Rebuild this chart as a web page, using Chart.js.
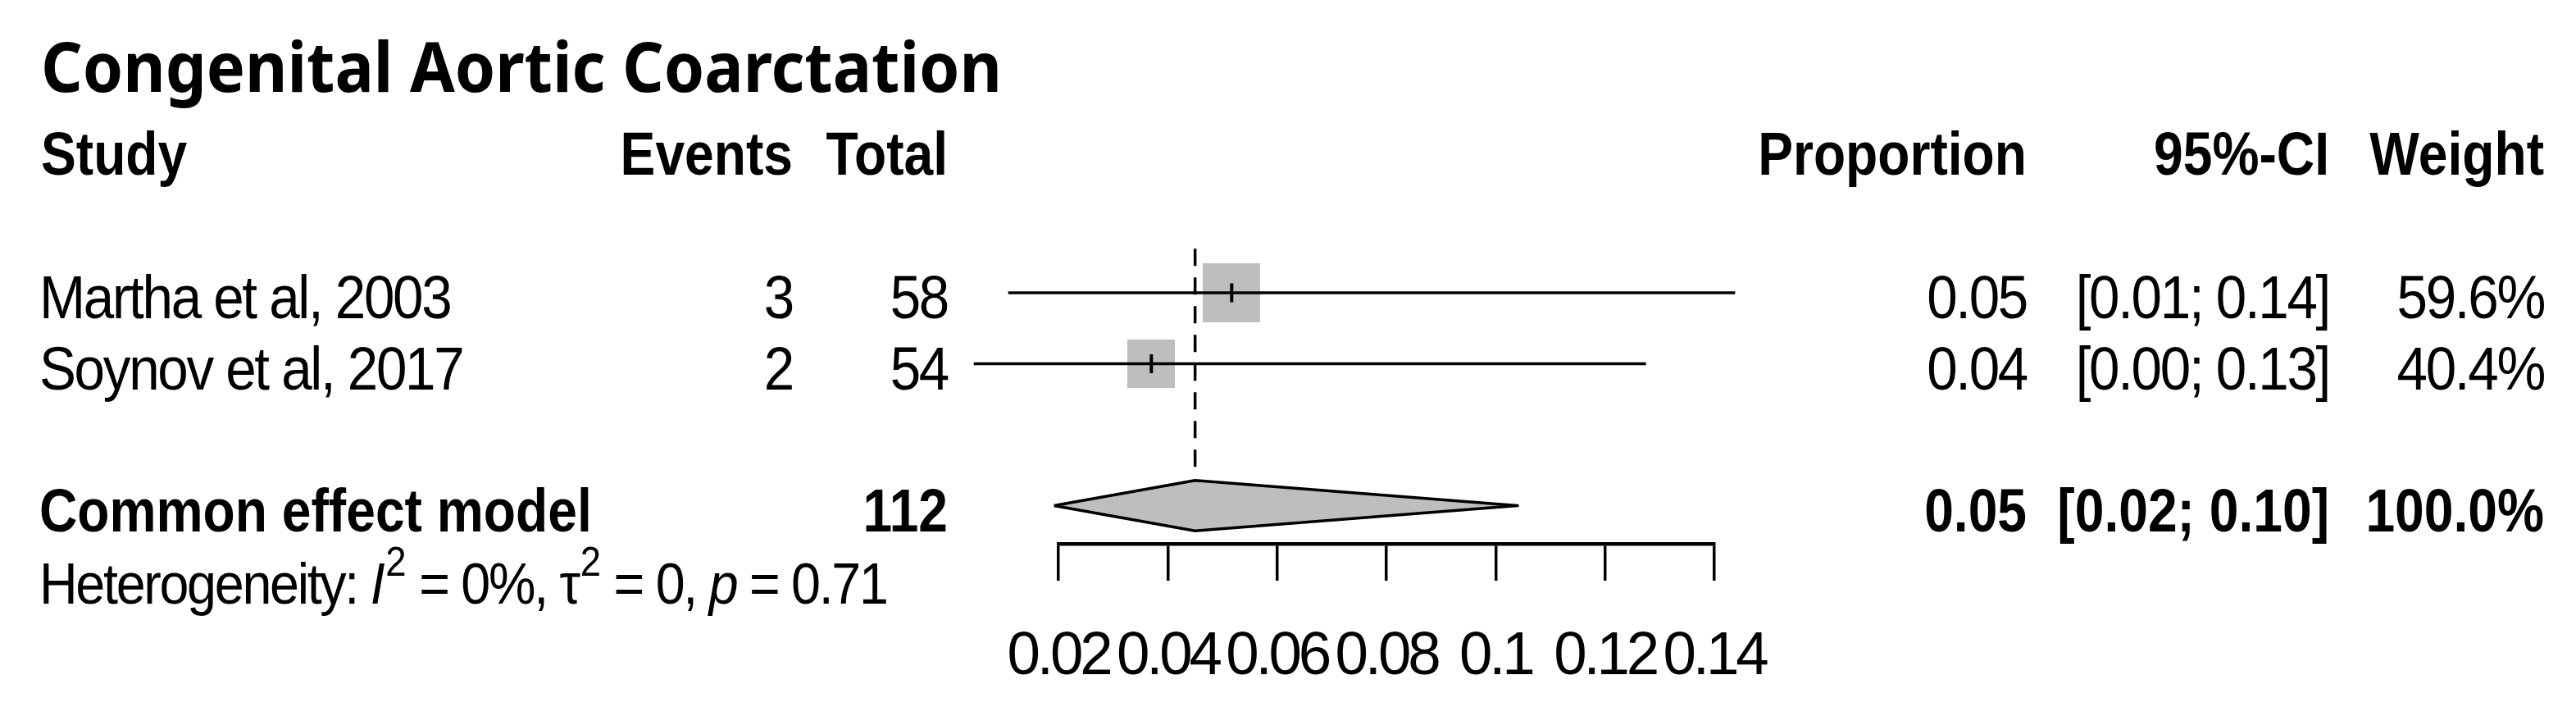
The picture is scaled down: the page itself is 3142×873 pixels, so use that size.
<!DOCTYPE html>
<html>
<head>
<meta charset="utf-8">
<script src="https://cdn.jsdelivr.net/npm/chart.js@4.4.1/dist/chart.umd.min.js"></script>
<style>
  html, body { margin: 0; padding: 0; background: #ffffff; }
  canvas { display: block; }
</style>
</head>
<body>
<canvas id="forest" width="3142" height="873" style="width:3142px;height:873px"></canvas>
<script>
// ---------------- data ----------------
const chartTitle = 'Congenital Aortic Coarctation';
const studies = ['Martha et al, 2003', 'Soynov et al, 2017'];
const events = [3, 2];
const totals = [58, 54];
const proportions = [0.0517, 0.0370];
const ciLower = [0.0108, 0.0045];
const ciUpper = [0.1438, 0.1275];
const weights = [59.6, 40.4];
const proportionLabels = ['0.05', '0.04'];
const ciLabels = ['[0.01; 0.14]', '[0.00; 0.13]'];
const weightLabels = ['59.6%', '40.4%'];

const pooledName = 'Common effect model';
const pooledTotal = 112;
const pooledEstimate = 0.0450;
const pooledLower = 0.0192;
const pooledUpper = 0.1040;
const pooledLabels = ['0.05', '[0.02; 0.10]', '100.0%'];

const xTickValues = [0.02, 0.04, 0.06, 0.08, 0.10, 0.12, 0.14];
const xTickLabels = ['0.02', '0.04', '0.06', '0.08', '0.1', '0.12', '0.14'];

// ---------------- layout ----------------
const W = 3142, H = 873;
const AXIS_LEFT = 1291, AXIS_RIGHT = 2091, AXIS_Y = 663, TICK_LEN = 45;
const ROW1_Y = 357, ROW_GAP = 86.5;
const Y_MIN = 0;
const Y_MAX = 1 + (AXIS_Y - ROW1_Y) / ROW_GAP;
const PAD_TOP = ROW1_Y - ROW_GAP;
const POOLED_ROW = 4, HET_ROW = 5, HEADER_ROW = -1;
const DIAMOND_HALF = 0.355;
const REF_TOP = 0.38, REF_BOTTOM = 3.6;

const FONT = '"Liberation Sans", Arial, Helvetica, sans-serif';
const REG = { size: 74, sx: 0.91, ls: -2.3 };
const BOLD = { size: 74, sx: 0.867, ls: 0 };
const TICKFONT = { size: 75, sx: 0.97, ls: -4.2 };

const COL_EVENTS = 967, COL_TOTAL = 1156;
const COL_PROP = 2472, COL_CI = 2841, COL_WEIGHT = 3103;
const LEFT_X = 48;

function rectImage(w, h) {
  const c = document.createElement('canvas');
  c.width = w; c.height = h;
  const g = c.getContext('2d');
  g.fillStyle = '#BEBEBE';
  g.fillRect(0, 0, w, h);
  return c;
}
const wMax = Math.max(...weights);
const squareImages = weights.map(w => {
  const s = Math.sqrt(w / wMax);
  return rectImage(Math.round(70 * s), Math.round(72 * s));
});

// ---------------- datasets ----------------
const datasets = [];
datasets.push({
  label: 'squares',
  data: proportions.map((p, i) => ({ x: p, y: i + 1 })),
  pointStyle: squareImages,
  pointRadius: 10,
  clip: false,
  order: 6
});
studies.forEach((s, i) => {
  datasets.push({
    label: s,
    showLine: true,
    data: [{ x: ciLower[i], y: i + 1 }, { x: ciUpper[i], y: i + 1 }],
    borderColor: '#000000',
    borderWidth: 3.5,
    pointRadius: 0,
    clip: false,
    order: 3
  });
});
datasets.push({
  label: 'estimates',
  data: proportions.map((p, i) => ({ x: p, y: i + 1 })),
  pointStyle: 'line',
  pointRotation: 90,
  pointRadius: 11.5,
  pointBorderWidth: 4,
  pointBorderColor: '#000000',
  clip: false,
  order: 1
});
datasets.push({
  label: pooledName,
  showLine: true,
  data: [
    { x: pooledLower, y: POOLED_ROW },
    { x: pooledEstimate, y: POOLED_ROW - DIAMOND_HALF },
    { x: pooledUpper, y: POOLED_ROW },
    { x: pooledEstimate, y: POOLED_ROW + DIAMOND_HALF },
    { x: pooledLower, y: POOLED_ROW }
  ],
  borderColor: '#000000',
  borderWidth: 3.5,
  borderJoinStyle: 'round',
  backgroundColor: '#BEBEBE',
  fill: 'shape',
  pointRadius: 0,
  tension: 0,
  clip: false,
  order: 4
});
datasets.push({
  label: 'reference',
  showLine: true,
  data: [{ x: pooledEstimate, y: REF_TOP }, { x: pooledEstimate, y: REF_BOTTOM }],
  borderColor: '#000000',
  borderWidth: 3.5,
  borderDash: [21, 14],
  pointRadius: 0,
  clip: false,
  order: 2
});

// ---------------- text plugin ----------------
function txt(ctx, s, x, y, opt) {
  const o = Object.assign({ size: REG.size, sx: REG.sx, ls: REG.ls, bold: false, italic: false, align: 'left', family: FONT }, opt || {});
  ctx.save();
  ctx.font = (o.italic ? 'italic ' : '') + (o.bold ? 'bold ' : '') + o.size + 'px ' + o.family;
  if ('letterSpacing' in ctx) ctx.letterSpacing = (o.ls / o.sx) + 'px';
  ctx.textAlign = o.align;
  ctx.textBaseline = 'alphabetic';
  ctx.fillStyle = '#000000';
  ctx.translate(x, y);
  ctx.scale(o.sx, 1);
  ctx.fillText(s, 0, 0);
  const w = ctx.measureText(s).width * o.sx;
  ctx.restore();
  return w;
}

const textPlugin = {
  id: 'forestText',
  afterDraw(chart) {
    const ctx = chart.ctx;
    const xs = chart.scales.x, ys = chart.scales.y;
    const base = r => ys.getPixelForValue(r) + 31;
    const B = { size: BOLD.size, sx: BOLD.sx, ls: BOLD.ls, bold: true };
    const R = { align: 'right' };

    // title (fitted to its measured width)
    ctx.save();
    ctx.font = 'bold 84px "Noto Sans", "Open Sans", sans-serif';
    const tw = ctx.measureText(chartTitle).width;
    ctx.restore();
    txt(ctx, chartTitle, 50, 112, { size: 84, sx: 1172 / tw, ls: 0, bold: true, family: '"Noto Sans", "Open Sans", sans-serif' });

    // header
    const hy = base(HEADER_ROW) - 2;
    txt(ctx, 'Study', LEFT_X + 2, hy, B);
    txt(ctx, 'Events', COL_EVENTS, hy, Object.assign({}, B, R));
    txt(ctx, 'Total', COL_TOTAL, hy, Object.assign({}, B, R));
    txt(ctx, 'Proportion', COL_PROP, hy, Object.assign({}, B, R));
    txt(ctx, '95%-CI', COL_CI, hy, Object.assign({}, B, R));
    txt(ctx, 'Weight', COL_WEIGHT, hy, Object.assign({}, B, R));

    // study rows
    studies.forEach((s, i) => {
      const y = base(i + 1);
      txt(ctx, s, LEFT_X, y);
      txt(ctx, String(events[i]), COL_EVENTS, y, R);
      txt(ctx, String(totals[i]), COL_TOTAL, y, R);
      txt(ctx, proportionLabels[i], COL_PROP, y, R);
      txt(ctx, ciLabels[i], COL_CI, y, R);
      txt(ctx, weightLabels[i], COL_WEIGHT, y, R);
    });

    // pooled row
    const py = base(POOLED_ROW);
    txt(ctx, pooledName, LEFT_X, py, B);
    txt(ctx, String(pooledTotal), COL_TOTAL, py, Object.assign({}, B, R));
    txt(ctx, pooledLabels[0], COL_PROP, py, Object.assign({}, B, R));
    txt(ctx, pooledLabels[1], COL_CI, py, Object.assign({}, B, R));
    txt(ctx, pooledLabels[2], COL_WEIGHT, py, Object.assign({}, B, R));

    // heterogeneity line
    const hetY = base(HET_ROW) + 2;
    const HS = { size: 71, sx: REG.sx, ls: REG.ls };
    const SUP = { size: 50, sx: REG.sx, ls: 0 };
    let x = LEFT_X;
    x += txt(ctx, 'Heterogeneity: ', x, hetY, HS);
    x += txt(ctx, 'I', x, hetY, Object.assign({ italic: true }, HS));
    x += txt(ctx, '2', x + 3, hetY - 34, SUP) + 3;
    x += txt(ctx, ' = 0%, ', x, hetY, HS);
    x += txt(ctx, '\u03C4', x, hetY, HS);
    x += txt(ctx, '2', x + 2, hetY - 34, SUP) + 2;
    x += txt(ctx, ' = 0, ', x, hetY, HS);
    x += txt(ctx, 'p', x, hetY, Object.assign({ italic: true }, HS));
    x += txt(ctx, ' = 0.71', x, hetY, HS);

    // x-axis tick labels
    xs.ticks.forEach((t, i) => {
      txt(ctx, xTickLabels[i], xs.getPixelForValue(t.value), 822, Object.assign({ align: 'center' }, TICKFONT));
    });
  }
};

// ---------------- chart ----------------
function makeChart() {
  new Chart(document.getElementById('forest'), {
    type: 'scatter',
    data: { datasets },
    options: {
      responsive: false,
      maintainAspectRatio: false,
      devicePixelRatio: 1,
      animation: false,
      events: [],
      layout: {
        padding: { left: AXIS_LEFT, right: W - AXIS_RIGHT, top: PAD_TOP, bottom: H - AXIS_Y - TICK_LEN }
      },
      plugins: { legend: { display: false }, tooltip: { enabled: false }, title: { display: false } },
      scales: {
        x: {
          type: 'linear',
          position: 'bottom',
          min: xTickValues[0],
          max: xTickValues[xTickValues.length - 1],
          afterBuildTicks: s => { s.ticks = xTickValues.map(v => ({ value: v })); },
          ticks: { display: false },
          grid: { display: true, drawOnChartArea: false, drawTicks: true, tickLength: TICK_LEN, lineWidth: 3.5, color: '#000000' },
          border: { display: true, color: '#000000', width: 4.5 }
        },
        y: {
          type: 'linear',
          display: false,
          reverse: true,
          min: Y_MIN,
          max: Y_MAX
        }
      }
    },
    plugins: [textPlugin]
  });
}

const fontLoads = [
  '74px "Liberation Sans"', 'bold 74px "Liberation Sans"', 'italic 71px "Liberation Sans"', 'bold 84px "Noto Sans"'
].map(f => document.fonts.load(f).catch(() => null));
Promise.all(fontLoads).then(makeChart, makeChart);
</script>
</body>
</html>
